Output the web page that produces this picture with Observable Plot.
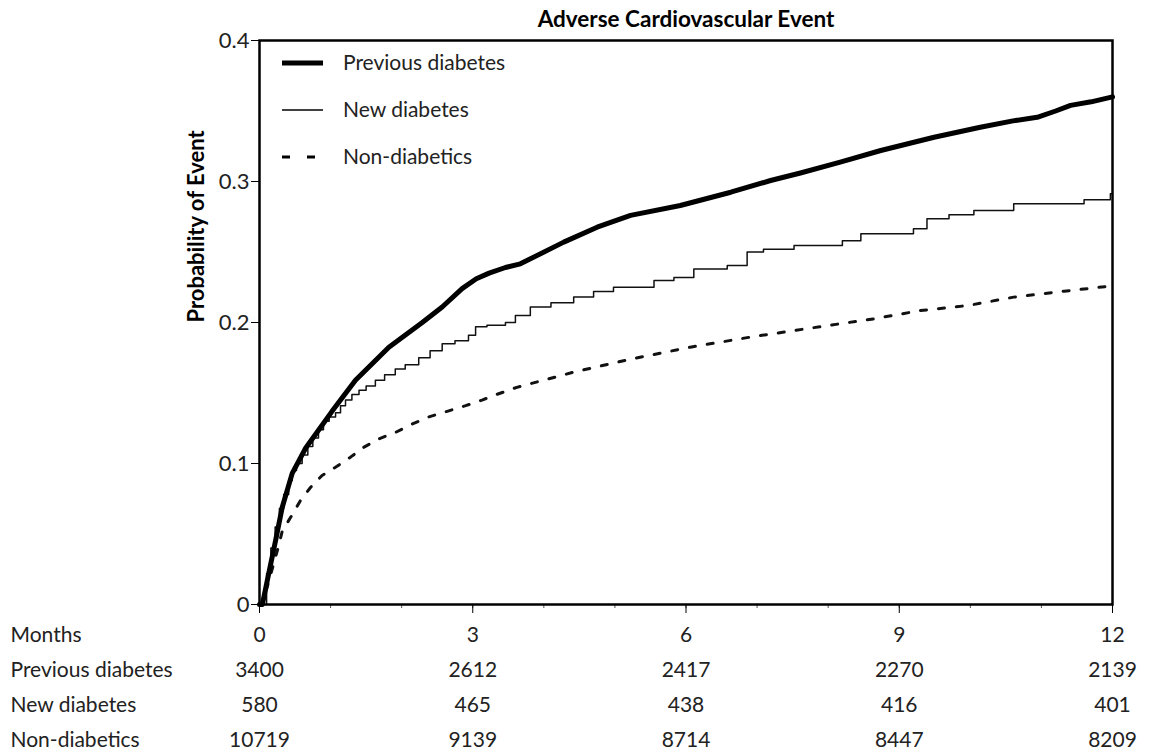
<!DOCTYPE html>
<html>
<head>
<meta charset="utf-8">
<script src="https://cdn.jsdelivr.net/npm/d3@7"></script>
<script src="https://cdn.jsdelivr.net/npm/@observablehq/plot@0.6"></script>
<style>
  html, body { margin: 0; padding: 0; background: #fff; }
  svg { display: block; }
</style>
</head>
<body>
<div id="chart"></div>
<script>
// ---- data ----
const chartTitle = "Adverse Cardiovascular Event";
const yLabel = "Probability of Event";
const yTicks = [0, 0.1, 0.2, 0.3, 0.4];
const monthTicks = [0, 3, 6, 9, 12];
const minorTicks = [0,1,2,3,4,5,6,7,8,9,10,11,12];

const seriesNames = ["Previous diabetes", "New diabetes", "Non-diabetics"];

const prevMonths = [0, 0.04, 0.13, 0.225, 0.32, 0.46, 0.65, 0.85, 1.02, 1.35, 1.82, 2.29, 2.57, 2.85, 3.05, 3.23, 3.46, 3.67, 4.28, 4.75, 5.22, 5.92, 6.63, 7.19, 7.61, 8.17, 8.74, 9.49, 10.14, 10.6, 10.94, 11.2, 11.41, 11.7, 12];
const prevProb   = [0, 0, 0.022, 0.045, 0.069, 0.093, 0.111, 0.125, 0.137, 0.159, 0.1825, 0.200, 0.211, 0.224, 0.231, 0.235, 0.239, 0.2416, 0.257, 0.2676, 0.276, 0.283, 0.2924, 0.3007, 0.306, 0.3137, 0.322, 0.3314, 0.3385, 0.343, 0.3455, 0.35, 0.354, 0.3565, 0.36];

const newMonths = [0, 0.03, 0.1, 0.16, 0.22, 0.28, 0.34, 0.41, 0.46, 0.52, 0.6, 0.68, 0.75, 0.83, 0.9, 0.98, 1.07, 1.14, 1.21, 1.3, 1.4, 1.5, 1.63, 1.76, 1.91, 2.05, 2.24, 2.4, 2.57, 2.75, 2.94, 3.04, 3.2, 3.46, 3.6, 3.81, 4.1, 4.42, 4.7, 4.98, 5.36, 5.55, 5.83, 6.11, 6.58, 6.86, 7.09, 7.52, 7.99, 8.2, 8.46, 9.2, 9.39, 9.7, 10.05, 10.61, 11.32, 11.6, 11.97, 12];
const newProb   = [0, 0, 0.022, 0.04, 0.055, 0.068, 0.078, 0.088, 0.095, 0.1, 0.106, 0.112, 0.118, 0.124, 0.13, 0.133, 0.136, 0.141, 0.145, 0.149, 0.152, 0.155, 0.159, 0.163, 0.167, 0.17, 0.175, 0.18, 0.185, 0.187, 0.191, 0.197, 0.198, 0.200, 0.205, 0.211, 0.214, 0.218, 0.222, 0.225, 0.225, 0.2298, 0.232, 0.238, 0.2404, 0.25, 0.252, 0.2546, 0.2546, 0.258, 0.263, 0.2665, 0.2735, 0.2765, 0.2794, 0.2842, 0.2842, 0.287, 0.2913, 0.2913];

const nonMonths = [0, 0.04, 0.15, 0.25, 0.32, 0.44, 0.577, 0.717, 0.88, 1.09, 1.28, 1.47, 1.68, 1.91, 2.15, 2.38, 2.64, 2.9, 3.13, 3.34, 3.62, 4.42, 5.22, 6.06, 6.9, 7.52, 8.64, 9.3, 9.96, 10.61, 11.32, 12];
const nonProb   = [0, 0, 0.02, 0.038, 0.052, 0.062, 0.0738, 0.083, 0.0915, 0.098, 0.1045, 0.1116, 0.1175, 0.122, 0.128, 0.133, 0.137, 0.141, 0.145, 0.149, 0.154, 0.1648, 0.174, 0.1825, 0.1896, 0.1943, 0.2026, 0.2085, 0.212, 0.218, 0.2222, 0.226];

const tableRowNames = ["Months", "Previous diabetes", "New diabetes", "Non-diabetics"];
const atRiskPrev = [3400, 2612, 2417, 2270, 2139];
const atRiskNew  = [580, 465, 438, 416, 401];
const atRiskNon  = [10719, 9139, 8714, 8447, 8209];

// ---- build tables ----
const toRows = (ms, ps, name) => ms.map((m, i) => ({month: m, prob: ps[i], series: name}));
const prevData = toRows(prevMonths, prevProb, seriesNames[0]);
const newData = toRows(newMonths, newProb, seriesNames[1]);
const nonData = toRows(nonMonths, nonProb, seriesNames[2]);

const tableData = [];
[monthTicks, atRiskPrev, atRiskNew, atRiskNon].forEach((vals, r) => {
  vals.forEach((v, i) => tableData.push({row: tableRowNames[r], month: monthTicks[i], value: String(v)}));
});

const FONT = "Lato, 'Noto Sans', sans-serif";
const TXT = "#222";

const legendStyles = [
  {width: 5, dash: null},
  {width: 1.5, dash: null},
  {width: 3, dash: "8,17"}
];

function legendMark(index, scales, values, dims) {
  const g = d3.create("svg:g").attr("font-family", FONT).attr("font-size", 21).attr("fill", TXT);
  seriesNames.forEach((name, i) => {
    const y = dims.marginTop + 23 + i * 47;
    const x0 = dims.marginLeft + 23;
    const ln = g.append("line")
      .attr("x1", x0).attr("x2", x0 + 41)
      .attr("y1", y).attr("y2", y)
      .attr("stroke", "#000")
      .attr("stroke-width", legendStyles[i].width);
    if (legendStyles[i].dash) ln.attr("stroke-dasharray", legendStyles[i].dash).attr("x2", x0 + 33);
    g.append("text").attr("x", dims.marginLeft + 84).attr("y", y).attr("dy", "0.35em")
      .attr("text-anchor", "start").text(name);
  });
  return g.node();
}

const main = Plot.plot({
  width: 1150,
  height: 620,
  marginLeft: 259,
  marginRight: 38,
  marginTop: 40,
  marginBottom: 16,
  style: {fontFamily: FONT, color: TXT, background: "#fff"},
  x: {domain: [0, 12]},
  y: {domain: [0, 0.4]},
  marks: [
    Plot.axisY({ticks: yTicks, tickSize: 8, tickPadding: 2, fontSize: 22, stroke: "#000",
                tickFormat: d => d === 0 ? "0" : d.toFixed(1), label: null}),
    Plot.axisX({ticks: minorTicks, tickSize: 4, tickFormat: () => "", label: null, stroke: "#555"}),
    Plot.axisX({ticks: monthTicks, tickSize: 9, tickFormat: () => "", label: null, stroke: "#000"}),
    Plot.line(nonData, {x: "month", y: "prob", stroke: "#111", strokeWidth: 3, strokeDasharray: "6,12"}),
    Plot.line(newData, {x: "month", y: "prob", stroke: "#111", strokeWidth: 1.5, curve: "step-after"}),
    Plot.line(prevData, {x: "month", y: "prob", stroke: "#000", strokeWidth: 5, strokeLinejoin: "round"}),
    Plot.frame({stroke: "#000", strokeWidth: 2.5}),
    Plot.text([chartTitle], {frameAnchor: "top", lineAnchor: "middle", dy: -21, fontWeight: "bold", fontSize: 22.5, fill: "#000"}),
    Plot.text([yLabel], {frameAnchor: "left", lineAnchor: "middle", rotate: -90, dx: -63, fontWeight: "bold", fontSize: 22, fill: "#000"}),
    legendMark
  ]
});

const table = Plot.plot({
  width: 1150,
  height: 134,
  marginLeft: 259,
  marginRight: 38,
  marginTop: 0,
  marginBottom: 0,
  style: {fontFamily: FONT, color: TXT, background: "#fff"},
  x: {domain: [0, 12], axis: null},
  y: {type: "point", domain: tableRowNames, range: [14, 120], padding: 0, axis: null},
  marks: [
    Plot.text(tableData, {x: "month", y: "row", text: "value", fontSize: 21, fill: TXT}),
    Plot.text(tableRowNames, {y: d => d, text: d => d, frameAnchor: "left", dx: -249, textAnchor: "start", fontSize: 21, fill: TXT})
  ]
});

document.getElementById("chart").append(main, table);
</script>
</body>
</html>
